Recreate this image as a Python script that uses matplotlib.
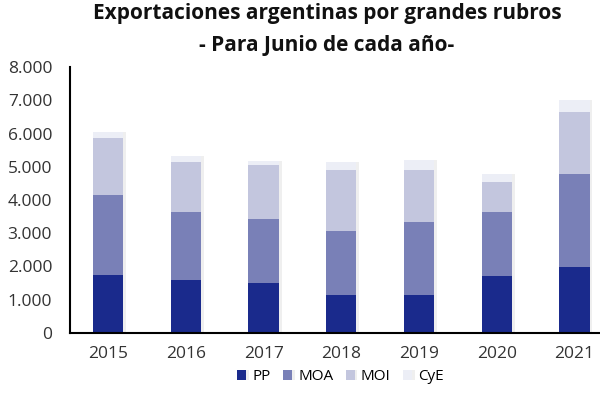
import matplotlib.pyplot as plt
import matplotlib.patheffects as pe
import numpy as np

plt.rcParams['font.family'] = ['Open Sans', 'DejaVu Sans']

# Exportaciones por grandes rubros (millones USD, junio de cada año)
years = ['2015', '2016', '2017', '2018', '2019', '2020', '2021']
pp = [1730, 1600, 1510, 1150, 1150, 1700, 2000]
moa = [2410, 2050, 1910, 1920, 2190, 1950, 2780]
moi = [1710, 1480, 1620, 1840, 1570, 900, 1870]
cye = [200, 180, 120, 220, 300, 230, 350]

series = [('PP', pp, '#1a2a8c'),
          ('MOA', moa, '#7980b7'),
          ('MOI', moi, '#c3c6de'),
          ('CyE', cye, '#eceef6')]

fig = plt.figure(figsize=(6, 4), dpi=100)
ax = fig.add_axes([0.117, 0.1675, 0.883, 0.665])

x = np.arange(len(years))
bottom = np.zeros(len(years))
shadow = [pe.SimplePatchShadow(offset=(2, 0), shadow_rgbFace='#999999', alpha=0.15), pe.Normal()]
for name, vals, color in series:
    bars = ax.bar(x, vals, width=0.39, bottom=bottom, color=color, label=name)
    for b in bars:
        b.set_path_effects(shadow)
    bottom += np.array(vals)

ax.set_xlim(-0.49, 6.33)
ax.set_ylim(0, 8000)
ax.set_yticks(range(0, 8001, 1000))
ax.set_yticklabels(['0'] + ['{:,}'.format(v).replace(',', '.') for v in range(1000, 8001, 1000)])
ax.set_xticks(x)
ax.set_xticklabels(years)
ax.tick_params(axis='both', length=0, labelsize=12.5, labelcolor='#333333')
ax.tick_params(axis='y', pad=13)
ax.tick_params(axis='x', pad=9)

ax.spines['top'].set_visible(False)
ax.spines['right'].set_visible(False)
ax.spines['left'].set_linewidth(1.5)
ax.spines['bottom'].set_linewidth(1.5)

fig.text(0.545, 0.965, 'Exportaciones argentinas por grandes rubros', ha='center', va='center',
         fontsize=15, fontweight='bold', color='#111111')
fig.text(0.545, 0.887, '- Para Junio de cada año-', ha='center', va='center',
         fontsize=15, fontweight='bold', color='#111111')

ax.legend(loc='upper center', bbox_to_anchor=(0.51, -0.085), ncol=4, frameon=False,
          handlelength=0.6, handleheight=0.6, handletextpad=0.4, columnspacing=0.8,
          prop={'size': 11})

fig.savefig('out.png', dpi=100)
